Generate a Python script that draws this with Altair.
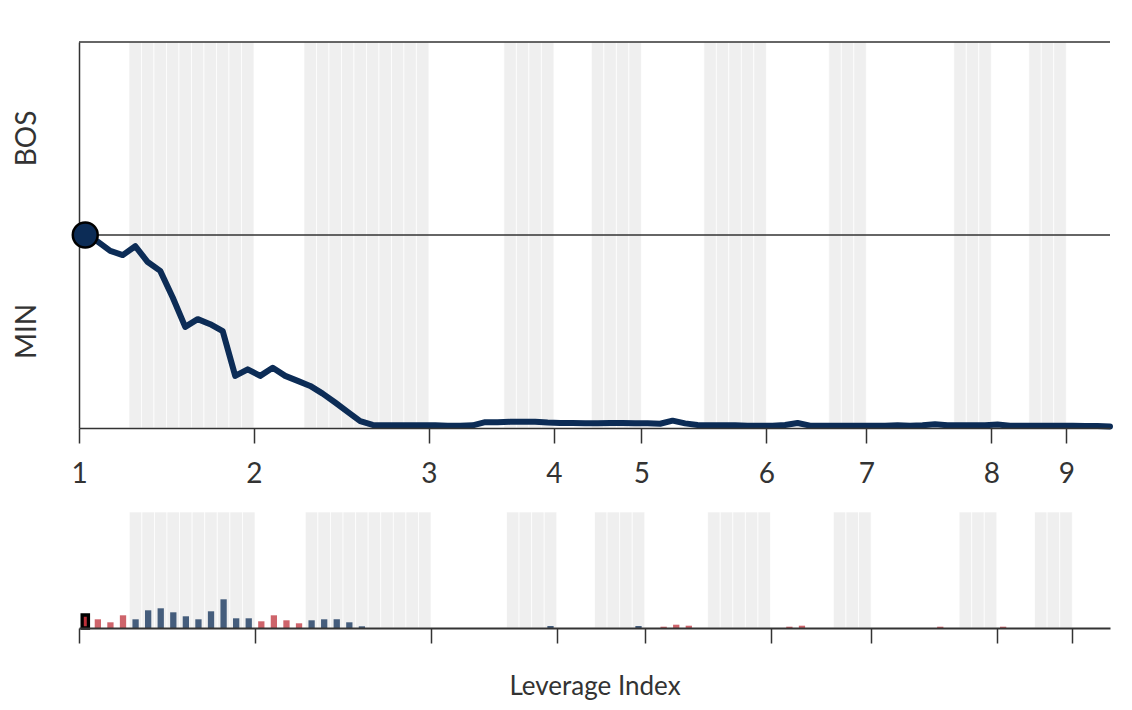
import altair as alt
import pandas as pd

# ---------------- data ----------------
teams = ["BOS", "MIN"]
team_colors = ["#BD3039", "#0C2C56"]
# plays per half inning (top 1, bottom 1, top 2, ...)
half_inning_plays = [4, 10, 4, 10, 6, 4, 3, 4, 5, 5, 5, 3, 7, 3, 3, 3, 3]
inning_labels = ["1", "2", "3", "4", "5", "6", "7", "8", "9"]

# win probability (BOS = 1, MIN = 0), one value per play slot centre plus final state
win_prob = [
    0.500, 0.483, 0.459, 0.448, 0.471, 0.430, 0.407, 0.338, 0.262, 0.282,
    0.269, 0.251, 0.135, 0.152, 0.135, 0.156, 0.135, 0.122, 0.109, 0.089,
    0.066, 0.042, 0.018, 0.008, 0.007, 0.007, 0.007, 0.007, 0.007, 0.006,
    0.006, 0.007, 0.015, 0.015, 0.016, 0.016, 0.016, 0.014, 0.013, 0.013,
    0.012, 0.012, 0.013, 0.013, 0.012, 0.012, 0.011, 0.019, 0.012, 0.008,
    0.007, 0.007, 0.007, 0.006, 0.006, 0.006, 0.008, 0.013, 0.006, 0.006,
    0.006, 0.006, 0.006, 0.006, 0.006, 0.007, 0.006, 0.007, 0.010, 0.007,
    0.007, 0.007, 0.007, 0.009, 0.006, 0.006, 0.006, 0.006, 0.006, 0.006,
    0.005, 0.005, 0.004,
]

# leverage index per play
leverage = [
    1.30, 0.87, 0.57, 1.27, 0.87, 1.77, 1.97, 1.57, 1.17, 0.87,
    1.67, 2.87, 0.97, 0.97, 0.67, 1.27, 0.77, 0.47, 0.77, 0.87,
    0.87, 0.57, 0.17, 0.0, 0.0, 0.0, 0.0, 0.0, 0.0, 0.0,
    0.0, 0.0, 0.0, 0.0, 0.0, 0.0, 0.0, 0.20, 0.0, 0.0,
    0.0, 0.0, 0.0, 0.0, 0.20, 0.0, 0.13, 0.33, 0.23, 0.0,
    0.0, 0.0, 0.0, 0.0, 0.0, 0.0, 0.13, 0.23, 0.0, 0.0,
    0.0, 0.0, 0.0, 0.0, 0.0, 0.0, 0.0, 0.0, 0.13, 0.0,
    0.0, 0.0, 0.0, 0.13, 0.0, 0.0, 0.0, 0.0, 0.0, 0.0,
    0.0, 0.0,
]

grid_levels = [0.5, 1.0]
side_labels = ["BOS", "MIN"]
side_label_levels = [0.75, 0.25]
li_max = 11.6

# ---------------- tables ----------------
rows = []
inning_starts = []
idx = 0
for h, n in enumerate(half_inning_plays):
    if h % 2 == 0:
        inning_starts.append(idx)
    for _ in range(n):
        rows.append({"play": idx, "team": teams[h % 2], "li": leverage[idx]})
        idx += 1
plays = pd.DataFrame(rows)
plays["end"] = plays["play"] + 1
n_plays = len(plays)

wp_df = pd.DataFrame({"k": list(range(len(win_prob))), "wp": win_prob})
wp_df["pos"] = wp_df["k"] + 0.5

grid_df = pd.DataFrame({"level": grid_levels})
side_df = pd.DataFrame({"label": side_labels, "level": side_label_levels})

TXT = "#333333"
FONT = "Lato"
label_expr = "'' + (indexof(" + str(inning_starts) + ", datum.value) + 1)"
no_border = alt.ViewBackground(stroke="transparent", strokeWidth=0)

# ---------------- top panel ----------------
xs_top = alt.Scale(domain=[0, len(win_prob) - 0.5], nice=False, zero=False)
ys_top = alt.Scale(domain=[0, 1], nice=False)
x_axis_top = alt.Axis(values=inning_starts, labelExpr=label_expr, title=None, grid=False,
                      tickSize=15, tickWidth=1.5, tickColor=TXT, domainColor=TXT,
                      domainWidth=1.5, labelFont=FONT, labelFontSize=28, labelColor=TXT,
                      labelPadding=17, labelFlush=False, zindex=1)
y_axis_top = alt.Axis(title=None, labels=False, ticks=False, grid=False,
                      domainColor=TXT, domainWidth=1.5)

band_top = alt.Chart(plays).transform_filter("datum.team == 'MIN'").mark_rect(
    color="#efefef", stroke="white", strokeWidth=1, strokeOpacity=0.7
).encode(
    x=alt.X("play:Q", scale=xs_top, axis=x_axis_top),
    x2="end:Q",
    y=alt.Y(datum=0, scale=ys_top, axis=y_axis_top),
    y2=alt.Y2(datum=1),
)

rules_top = alt.Chart(grid_df).mark_rule(color=TXT, strokeWidth=1.5).encode(
    y=alt.Y("level:Q", scale=ys_top, axis=y_axis_top)
)

line_top = alt.Chart(wp_df).mark_line(
    color="#0C2C56", strokeWidth=6, strokeCap="round", strokeJoin="round"
).encode(
    x=alt.X("pos:Q", scale=xs_top, axis=x_axis_top),
    y=alt.Y("wp:Q", scale=ys_top, axis=y_axis_top),
)

dot_top = alt.Chart(wp_df).transform_filter("datum.k == 0").mark_point(
    shape="circle", filled=True, size=620, fill="#0C2C56", stroke="black",
    strokeWidth=2.5, opacity=1
).encode(
    x=alt.X("pos:Q", scale=xs_top, axis=x_axis_top),
    y=alt.Y("wp:Q", scale=ys_top, axis=y_axis_top),
)

text_top = alt.Chart(side_df).mark_text(
    angle=270, font=FONT, fontSize=28, color=TXT, align="center", baseline="middle"
).encode(
    x=alt.value(-51),
    y=alt.Y("level:Q", scale=ys_top, axis=y_axis_top),
    text="label:N",
)

top = alt.layer(band_top, rules_top, line_top, dot_top, text_top).properties(
    width=1031, height=386, view=no_border
)

# ---------------- bottom panel ----------------
xs_bot = alt.Scale(domain=[0, n_plays], nice=False, zero=False)
ys_bot = alt.Scale(domain=[0, li_max], nice=False)
x_axis_bot = alt.Axis(values=inning_starts, labels=False, title="Leverage Index", grid=False,
                      tickSize=15, tickWidth=1.5, tickColor=TXT, domainColor=TXT,
                      domainWidth=2, titleFont=FONT, titleFontSize=26, titleColor=TXT,
                      titleFontWeight="normal", titlePadding=30, zindex=1)
color_enc = alt.Color("team:N", scale=alt.Scale(domain=teams, range=team_colors), legend=None)

band_bot = alt.Chart(plays).transform_filter("datum.team == 'MIN'").mark_rect(
    color="#efefef", stroke="white", strokeWidth=1, strokeOpacity=0.7
).encode(
    x=alt.X("play:Q", scale=xs_bot, axis=x_axis_bot),
    x2="end:Q",
    y=alt.Y(datum=0, scale=ys_bot, axis=None),
    y2=alt.Y2(datum=li_max),
)

bars_bot = alt.Chart(plays).transform_filter("datum.li > 0 && datum.play > 0").transform_calculate(
    b0="datum.play + 0.25", b1="datum.play + 0.75"
).mark_rect(fillOpacity=0.75).encode(
    x=alt.X("b0:Q", scale=xs_bot, axis=x_axis_bot),
    x2="b1:Q",
    y=alt.Y("li:Q", scale=ys_bot, axis=None),
    y2=alt.Y2(datum=0),
    color=color_enc,
)

hl_bot = alt.Chart(plays).transform_filter("datum.play == 0").transform_calculate(
    b0="datum.play + 0.25", b1="datum.play + 0.75"
).mark_rect(fillOpacity=1, stroke="black", strokeWidth=3.3).encode(
    x=alt.X("b0:Q", scale=xs_bot, axis=x_axis_bot),
    x2="b1:Q",
    y=alt.Y("li:Q", scale=ys_bot, axis=None),
    y2=alt.Y2(datum=0),
    color=color_enc,
)

bottom = alt.layer(band_bot, bars_bot, hl_bot).properties(
    width=1031, height=116, view=no_border
)

chart = alt.vconcat(top, bottom, spacing=23).resolve_scale(
    x="independent", y="independent"
).properties(
    padding={"left": 6, "top": 33, "right": 5, "bottom": 5}
).configure_view(stroke="transparent", strokeWidth=0)

chart.save("out.html", embed_options={"renderer": "svg", "actions": False})
